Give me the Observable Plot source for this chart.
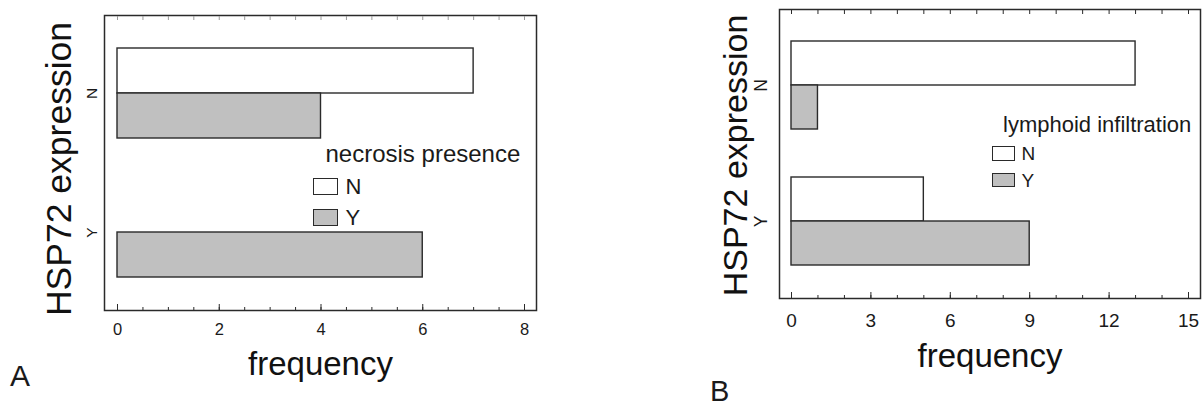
<!DOCTYPE html>
<html>
<head>
<meta charset="utf-8">
<script src="https://cdn.jsdelivr.net/npm/d3@7"></script>
<script src="https://cdn.jsdelivr.net/npm/@observablehq/plot@0.6"></script>
<style>
  html, body { margin: 0; padding: 0; background: #ffffff; }
  #root { position: relative; width: 1203px; height: 406px; overflow: hidden;
          font-family: "Liberation Sans", Arial, sans-serif; color: #1a1a1a; }
  .panel { position: absolute; top: 0; }
  .txt { position: absolute; white-space: nowrap; line-height: 1; color: #1a1a1a; }
  .sw { position: absolute; box-sizing: border-box; border: 1.5px solid #2a2a2a; }
</style>
</head>
<body>
<div id="root"></div>
<script>
// ---------- data ----------
const hspLevels = ["N", "Y"];          // HSP72 expression (y categories)
const seriesLevels = ["N", "Y"];       // legend categories
const seriesColors = ["#ffffff", "#c0c0c0"];
// Panel A: necrosis presence, values per HSP72 level [N, Y]
const necrosisN = [7, 0];
const necrosisY = [4, 6];
// Panel B: lymphoid infiltration, values per HSP72 level [N, Y]
const lymphoidN = [13, 5];
const lymphoidY = [1, 9];
// axis ticks
const majorTicksA = [0, 2, 4, 6, 8];
const minorTicksA = [0, 0.5, 1, 1.5, 2, 2.5, 3, 3.5, 4, 4.5, 5, 5.5, 6, 6.5, 7, 7.5, 8];
const majorTicksB = [0, 3, 6, 9, 12, 15];
const minorTicksB = [0, 1, 2, 3, 4, 5, 6, 7, 8, 9, 10, 11, 12, 13, 14, 15];
// texts
const yTitle = "HSP72 expression";
const xTitle = "frequency";
const legendTitleA = "necrosis presence";
const legendTitleB = "lymphoid infiltration";
const panelLabels = ["A", "B"];

const FONT = "Liberation Sans, Arial, sans-serif";
const INK = "#2a2a2a";

function toRows(nVals, yVals) {
  return hspLevels.flatMap((h, i) => [
    {hsp: h, series: seriesLevels[0], value: nVals[i]},
    {hsp: h, series: seriesLevels[1], value: yVals[i]}
  ]);
}

function common(o) {
  return {
    width: o.width, height: 406,
    marginLeft: o.ml, marginRight: o.mr, marginTop: o.mt, marginBottom: o.mb,
    style: {fontFamily: FONT, color: "#1a1a1a", background: "transparent", overflow: "visible"},
    x: {domain: [0, o.xmax], insetLeft: o.il, insetRight: o.ir, axis: null}
  };
}

// bars: faceted by HSP72 level, series side by side inside each facet
function barsPlot(o) {
  return Plot.plot({
    ...common(o),
    y: {domain: seriesLevels, padding: 0, axis: null},
    fy: {domain: hspLevels, paddingInner: 0.35, paddingOuter: 0.23, axis: null},
    color: {domain: seriesLevels, range: seriesColors},
    marks: [
      Plot.barX(o.rows, {x: "value", y: "series", fy: "hsp", fill: "series", stroke: INK, strokeWidth: 1.4}),
      Plot.ruleX(o.rows, {filter: d => d.value === 0, x: "value", y: "series", fy: "hsp", stroke: INK, strokeWidth: 1.4}),
      Plot.text(hspLevels, {fy: d => d, text: d => d, frameAnchor: "left", rotate: -90, dx: -o.fyPad,
        textAnchor: "middle", lineAnchor: "bottom", fontSize: o.fyFont, fill: "#1a1a1a"})
    ]
  });
}

// frame, x axes and titles (same x scale, no facets)
function axesPlot(o) {
  return Plot.plot({
    ...common(o),
    marks: [
      Plot.frame({stroke: INK, strokeWidth: 1.5}),
      Plot.axisX(o.minor, {anchor: "bottom", tickSize: -3, fill: "none", label: null, stroke: INK}),
      Plot.axisX(o.major, {anchor: "bottom", tickSize: -6, fill: "none", label: null, stroke: INK}),
      Plot.axisX(o.minor, {anchor: "top", tickSize: -4, fill: "none", label: null, stroke: o.topTick}),
      Plot.text(o.major, {x: d => d, text: d => String(d), frameAnchor: "bottom", dy: o.tp, lineAnchor: "top",
        fontSize: o.tickFont, fill: "#1a1a1a"}),
      Plot.text([yTitle], {frameAnchor: "left", rotate: -90, dx: o.ytDx, dy: o.ytDy, textAnchor: "middle",
        lineAnchor: "bottom", fontSize: o.ytFont, fill: "#111"}),
      Plot.text([xTitle], {frameAnchor: "bottom", dy: o.xtDy, textAnchor: "middle", lineAnchor: "bottom",
        fontSize: 33, fill: "#111"})
    ]
  });
}

const root = document.getElementById("root");

function mount(o, left) {
  for (const svg of [barsPlot(o), axesPlot(o)]) {
    svg.classList.add("panel");
    svg.style.left = left + "px";
    root.appendChild(svg);
  }
}

mount({
  rows: toRows(necrosisN, necrosisY), width: 560, ml: 104, mr: 24, mt: 15, mb: 96,
  xmax: 8, il: 13, ir: 12, major: majorTicksA, minor: minorTicksA,
  tp: 12.5, tickFont: 16.5, fyPad: 8, fyFont: 15.5, ytDx: -33.5, ytDy: 6, ytFont: 35.5, xtDy: 64, topTick: "#9a9a9a"
}, 0);

mount({
  rows: toRows(lymphoidN, lymphoidY), width: 523, ml: 99, mr: 3, mt: 9, mb: 108,
  xmax: 15, il: 12, ir: 12, major: majorTicksB, minor: minorTicksB,
  tp: 15, tickFont: 19, fyPad: 13, fyFont: 17.5, ytDx: -32.5, ytDy: 1.5, ytFont: 34, xtDy: 68, topTick: INK
}, 680);

// ---------- HTML legends and panel letters ----------
function addText(str, left, top, size, lh) {
  const d = document.createElement("div");
  d.className = "txt";
  d.textContent = str;
  d.style.left = left + "px";
  d.style.top = top + "px";
  d.style.fontSize = size + "px";
  if (lh) d.style.lineHeight = lh;
  root.appendChild(d);
}
function addSwatch(color, left, top, w, h) {
  const d = document.createElement("div");
  d.className = "sw";
  d.style.left = left + "px";
  d.style.top = top + "px";
  d.style.width = w + "px";
  d.style.height = h + "px";
  d.style.background = color;
  root.appendChild(d);
}

// Legend A
addText(legendTitleA, 325.5, 142, 24);
addSwatch(seriesColors[0], 312.5, 177.5, 25, 17);
addText(seriesLevels[0], 345.5, 175.5, 22);
addSwatch(seriesColors[1], 312.5, 208.5, 25, 17.5);
addText(seriesLevels[1], 345.5, 207, 22);

// Legend B
addText(legendTitleB, 1003, 113.5, 22);
addSwatch(seriesColors[0], 992, 145.5, 23, 15.5);
addText(seriesLevels[0], 1021.5, 144, 19);
addSwatch(seriesColors[1], 992, 172.5, 23, 14.5);
addText(seriesLevels[1], 1021.5, 170.5, 19);

// Panel letters
addText(panelLabels[0], 10, 364, 30, 0.8);
addText(panelLabels[1], 710, 380, 29, 0.8);
</script>
</body>
</html>
